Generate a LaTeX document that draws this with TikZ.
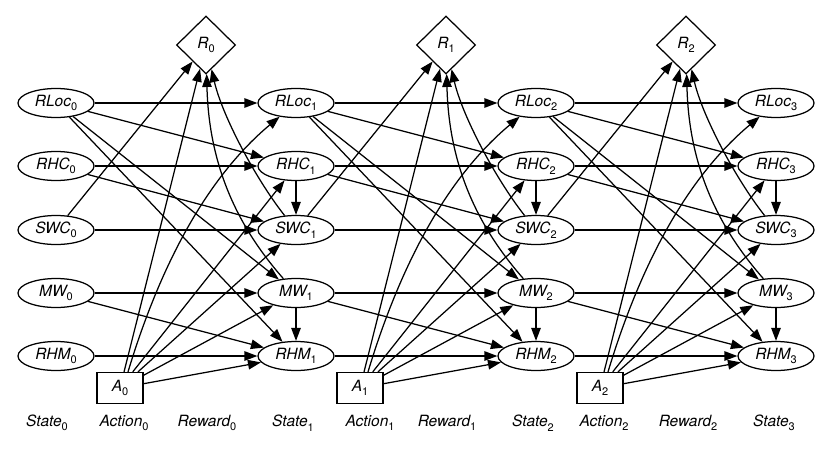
\documentclass[tikz,border=0pt]{standalone}
\usepackage{fontspec}
\setmainfont{TeX Gyre Heros}
\usetikzlibrary{shapes.geometric,arrows.meta}
\newcommand\vlab[2]{#1\raisebox{-4.5pt}{\fontsize{11}{11}\selectfont\upshape #2}}
\begin{document}
\begin{tikzpicture}[x=1pt,y=-1pt,
  every node/.style={font=\fontsize{15.5}{17}\selectfont\itshape},
  st/.style={ellipse,draw,line width=1.25pt,minimum width=76pt,minimum height=29pt,inner sep=0pt},
  rw/.style={diamond,draw,line width=1.25pt,minimum width=59pt,minimum height=58pt,inner sep=0pt},
  ac/.style={rectangle,draw,line width=1.25pt,minimum width=46pt,minimum height=31pt,inner sep=0pt},
  tag/.style={inner sep=0pt},
  arr/.style={-{Triangle[length=13pt,width=9.5pt]},line width=1.25pt},
]
\useasboundingbox (0,0) rectangle (830,452);
% state nodes
\foreach \t in {0,...,3}{
  \pgfmathsetmacro\xx{56+240*\t}
  \node[st] (RLoc\t) at (\xx,103) {\vlab{RLoc}{\t}};
  \node[st] (RHC\t)  at (\xx,166) {\vlab{RHC}{\t}};
  \node[st] (SWC\t)  at (\xx,230) {\vlab{SWC}{\t}};
  \node[st] (MW\t)   at (\xx,293) {\vlab{MW}{\t}};
  \node[st] (RHM\t)  at (\xx,356) {\vlab{RHM}{\t}};
}
% reward and action nodes
\foreach \t in {0,1,2}{
  \pgfmathsetmacro\rx{206+240*\t}
  \pgfmathsetmacro\ax{120+240*\t}
  \node[rw] (R\t) at (\rx,45) {\vlab{R}{\t}};
  \node[ac] (A\t) at (\ax,388) {\vlab{A}{\t}};
}
% bottom labels
\node[tag] (LS0) at (47,423) {\vlab{State}{0}};
\node[tag] (LA0) at (124,423) {\vlab{Action}{0}};
\node[tag] (LR0) at (207,423) {\vlab{Reward}{0}};
\node[tag] (LS1) at (293,423) {\vlab{State}{1}};
\node[tag] (LA1) at (370,423) {\vlab{Action}{1}};
\node[tag] (LR1) at (447,423) {\vlab{Reward}{1}};
\node[tag] (LS2) at (533,423) {\vlab{State}{2}};
\node[tag] (LA2) at (604,423) {\vlab{Action}{2}};
\node[tag] (LR2) at (688,423) {\vlab{Reward}{2}};
\node[tag] (LS3) at (774,423) {\vlab{State}{3}};
% edges
\foreach \t in {0,1,2}{
  \pgfmathtruncatemacro\s{\t+1}
  \pgfmathsetmacro\dx{240*\t}
  \draw[arr] (RLoc\t) -- (RLoc\s);
  \draw[arr] (RLoc\t) -- (RHC\s);
  \draw[arr] (RLoc\t) -- (MW\s);
  \draw[arr] (RLoc\t) -- (RHM\s);
  \draw[arr] (RHC\t) -- (RHC\s);
  \draw[arr] (RHC\t) -- (SWC\s);
  \draw[arr] (SWC\t) -- (SWC\s);
  \draw[arr] (SWC\t) -- (R\t);
  \draw[arr] (MW\t) -- (MW\s);
  \draw[arr] (MW\t) -- (RHM\s);
  \draw[arr] (RHM\t) -- (RHM\s);
  \draw[arr] (A\t) -- (R\t);
  \draw[arr] (A\t) -- (RHC\s);
  \draw[arr] (A\t) -- (SWC\s);
  \draw[arr] (A\t) -- (MW\s);
  \draw[arr] (A\t) -- (RHM\s);
  \draw[arr] (RHC\s) -- (SWC\s);
  \draw[arr] (MW\s) -- (RHM\s);
  \draw[arr] ([xshift=8pt]A\t.north) .. controls ({162.7+\dx},257) and ({211+\dx},174) .. (RLoc\s);
  \draw[arr] (SWC\s) .. controls ({255+\dx},178) and ({222+\dx},115) .. (R\t);
  \draw[arr] (MW\s) .. controls ({245+\dx},235) and ({209+\dx},175) .. (R\t);
}
\end{tikzpicture}
\end{document}
